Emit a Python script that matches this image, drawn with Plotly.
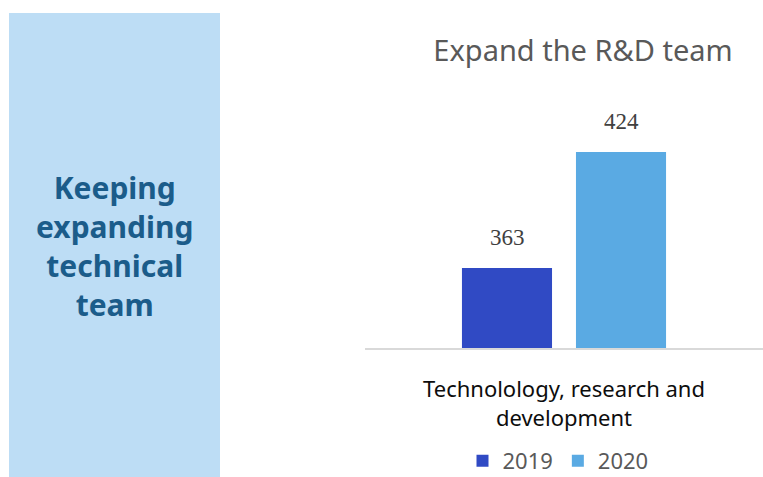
import plotly.graph_objects as go

# Data
categories = ["Technolology, research and<br>development"]
years = ["2019", "2020"]
headcount = {"2019": [363], "2020": [424]}
bar_colors = {"2019": "#304AC4", "2020": "#5AAAE3"}
headline = ["Keeping", "expanding", "technical", "team"]

W, H = 763, 477
M_TOP, M_BOT = 110, 129
plot_h = H - M_TOP - M_BOT


def py(pixel_y):
    """Convert a page pixel row into paper y coordinates."""
    return (H - M_BOT - pixel_y) / plot_h


fig = go.Figure()

for yr in years:
    fig.add_trace(go.Bar(
        x=categories,
        y=headcount[yr],
        name=yr,
        marker=dict(color=bar_colors[yr], line=dict(width=0)),
        hoverinfo="skip",
    ))

# Value labels above each bar
offsets = {"2019": -57, "2020": 57}
for yr in years:
    for cat, val in zip(categories, headcount[yr]):
        fig.add_annotation(
            x=cat, y=val, xref="x", yref="y",
            text=str(val), showarrow=False,
            xshift=offsets[yr], yshift=16, yanchor="bottom",
            font=dict(family="Liberation Serif", size=23, color="#404040"),
        )

# Left side panel with headline text
fig.add_shape(
    type="rect", xref="paper", yref="paper",
    x0=9 / W, x1=220 / W, y0=py(477), y1=py(13),
    fillcolor="#BDDDF5", line=dict(width=0), layer="below",
)
fig.add_annotation(
    x=114 / W, y=py(246), xref="paper", yref="paper",
    text="<b>" + "<br>".join(headline) + "</b>",
    showarrow=False, xanchor="center", yanchor="middle", align="center",
    font=dict(family="Noto Sans", size=30, color="#1B5C8A"),
)

fig.update_layout(
    width=W, height=H,
    margin=dict(l=0, r=0, t=M_TOP, b=M_BOT, autoexpand=False),
    paper_bgcolor="white", plot_bgcolor="white",
    barmode="group", bargap=0.427, bargroupgap=0.21,
    title=dict(
        text="Expand the R&D team",
        x=583 / W, xanchor="center", xref="paper",
        y=1 - 51 / H, yanchor="middle",
        font=dict(family="Noto Sans", size=29, color="#595959"),
    ),
    xaxis=dict(
        domain=[365 / W, 1],
        showline=True, linecolor="#D9D9D9", linewidth=2,
        showgrid=False, zeroline=False, ticks="",
        ticklabelstandoff=21, automargin=False,
        tickfont=dict(family="Noto Sans", size=22, color="#0D0D0D"),
    ),
    yaxis=dict(
        range=[320.9, 446.1], visible=False, showgrid=False, zeroline=False,
        automargin=False,
    ),
    showlegend=True,
    legend=dict(
        orientation="h", x=558 / W, xanchor="center",
        y=py(461), yanchor="middle",
        font=dict(family="Noto Sans", size=22, color="#595959"),
        itemclick=False, itemdoubleclick=False,
    ),
)

fig.write_html("out.html")
